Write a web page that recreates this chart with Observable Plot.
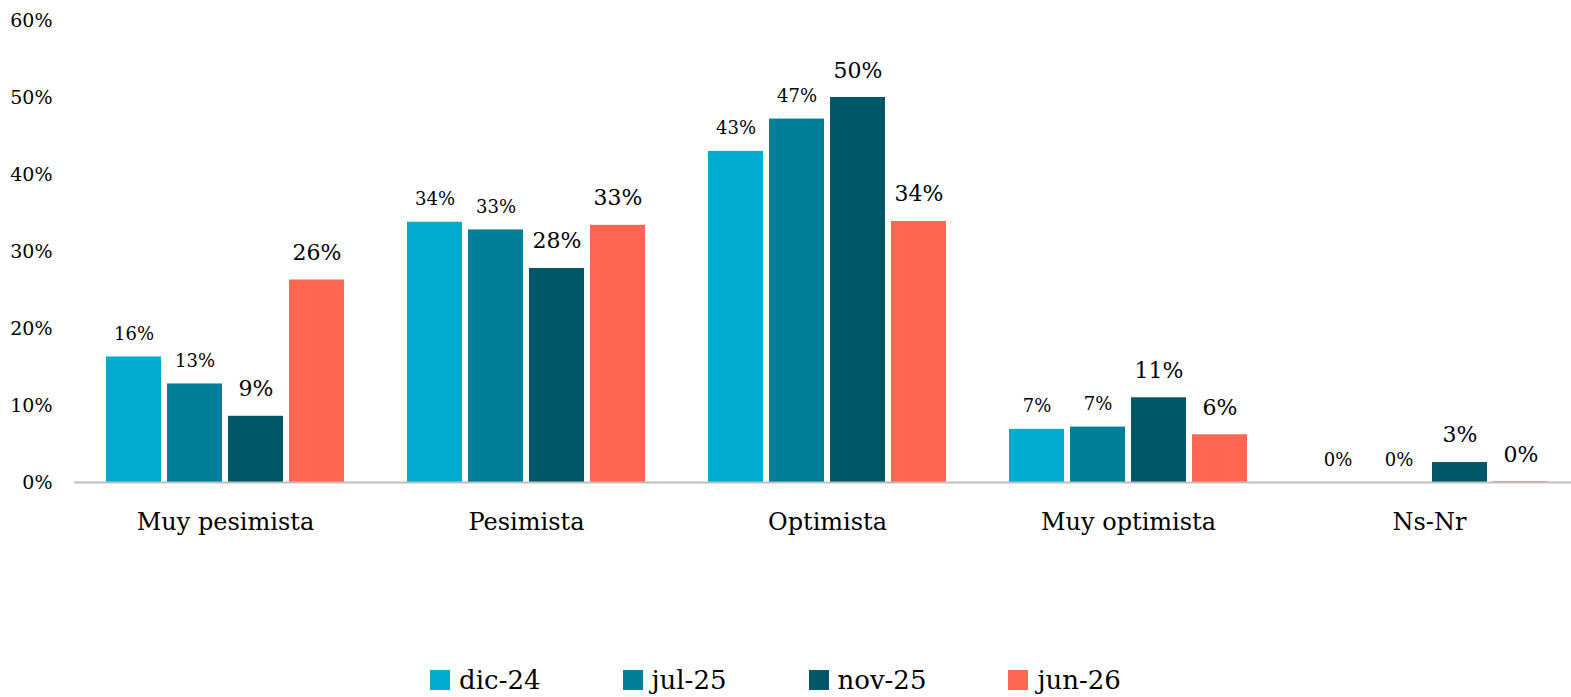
<!DOCTYPE html>
<html><head><meta charset="utf-8">
<script src="https://cdn.jsdelivr.net/npm/d3@7"></script>
<script src="https://cdn.jsdelivr.net/npm/@observablehq/plot@0.6"></script>
<style>
html,body{margin:0;padding:0;background:#fff;overflow:hidden;}
#chart{width:1571px;height:560px;}
.legend{display:flex;justify-content:center;align-items:center;gap:82px;margin-top:104px;height:32px;font-family:"DejaVu Serif",serif;font-size:26px;color:#000;padding-right:20px;}
.legend .item{display:flex;align-items:center;gap:9px;}
.legend .sw{width:20px;height:20px;display:inline-block;}
</style></head><body><div id="chart"></div><div class="legend" id="legend"></div><script>
const categories = ["Muy pesimista", "Pesimista", "Optimista", "Muy optimista", "Ns-Nr"];
const seriesNames = ["dic-24", "jul-25", "nov-25", "jun-26"];
const dic24 = [0.163, 0.338, 0.430, 0.069, 0.000];
const jul25 = [0.128, 0.328, 0.472, 0.072, 0.000];
const nov25 = [0.086, 0.278, 0.500, 0.110, 0.026];
const jun26 = [0.263, 0.334, 0.339, 0.062, 0.001];
const colors = ["#00abd0", "#007f99", "#005768", "#ff6753"];
const yTicks = [0, 0.1, 0.2, 0.3, 0.4, 0.5, 0.6];
const bigLabelSeries = ["nov-25", "jun-26"];

const seriesValues = [dic24, jul25, nov25, jun26];
const data = categories.flatMap((c, i) => seriesNames.map((s, j) => ({category: c, series: s, value: seriesValues[j][i]})));
const fmt = d3.format(".0%");

const chart = Plot.plot({
  width: 1571, height: 560,
  marginLeft: 73, marginRight: 0, marginTop: 20, marginBottom: 78,
  style: {fontFamily: "DejaVu Serif, serif", background: "#fff", color: "#000", overflow: "visible"},
  fx: {domain: categories, range: [72, 1581], paddingInner: 0.21, paddingOuter: 0.105, label: null},
  x: {domain: seriesNames, paddingInner: 0.1, paddingOuter: 0, axis: null},
  y: {domain: [0, 0.6], label: null},
  color: {domain: seriesNames, range: colors},
  marks: [
    Plot.axisY({ticks: yTicks, tickFormat: fmt, tickSize: 0, tickPadding: 54, fontSize: 19, label: null}),
    Plot.axisFx({anchor: "bottom", tickSize: 0, tickPadding: 30, fontSize: 24, label: null}),
    Plot.barY(data, {fx: "category", x: "series", y: "value", fill: "series"}),
    Plot.ruleY([0], {stroke: "#bfbfbf", strokeWidth: 2, insetLeft: -32, insetRight: -32}),
    Plot.text(data.filter(d => !bigLabelSeries.includes(d.series)), {fx: "category", x: "series", y: "value", text: d => fmt(d.value), lineAnchor: "bottom", dy: -17, fontSize: 18, fill: "#000"}),
    Plot.text(data.filter(d => bigLabelSeries.includes(d.series)), {fx: "category", x: "series", y: "value", text: d => fmt(d.value), lineAnchor: "bottom", dy: -20, fontSize: 22, fill: "#000"})
  ]
});
document.getElementById("chart").appendChild(chart);

const legend = document.getElementById("legend");
seriesNames.forEach((s, i) => {
  const item = document.createElement("div");
  item.className = "item";
  const sw = document.createElement("span");
  sw.className = "sw";
  sw.style.background = colors[i];
  const t = document.createElement("span");
  t.textContent = s;
  item.appendChild(sw); item.appendChild(t);
  legend.appendChild(item);
});
</script></body></html>
